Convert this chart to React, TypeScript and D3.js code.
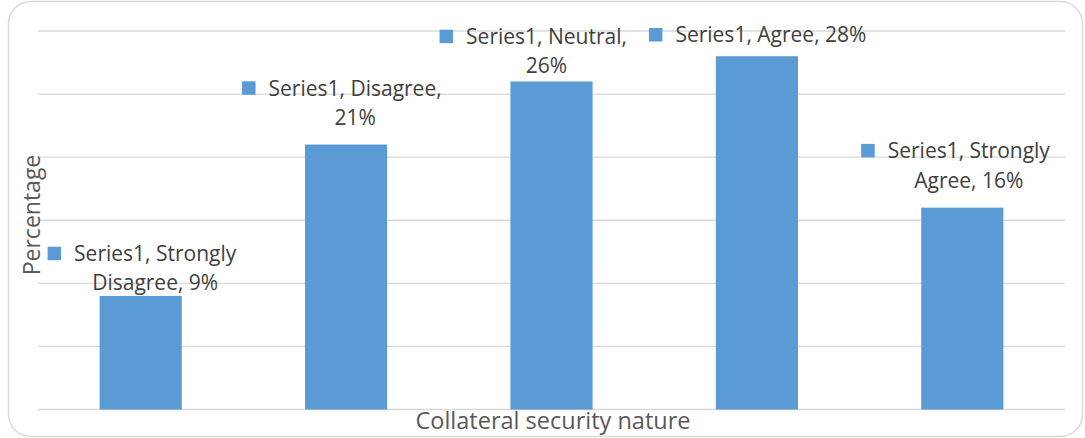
import React, { useEffect, useRef } from "react";
import * as d3 from "d3";

const categories = ["Strongly Disagree", "Disagree", "Neutral", "Agree", "Strongly Agree"];
const values = [9, 21, 26, 28, 16];
const labelLines = [
  ["Series1, Strongly", "Disagree, 9%"],
  ["Series1, Disagree,", "21%"],
  ["Series1, Neutral,", "26%"],
  ["Series1, Agree, 28%"],
  ["Series1, Strongly", "Agree, 16%"],
];
const yTicks = [0, 5, 10, 15, 20, 25, 30];
const xTitle = "Collateral security nature";
const yTitle = "Percentage";

// label layout: text center offset from bar center, last baseline offset from bar top
const labelDx = [14.5, 9, -5, 14, 6.5];
const labelDy = [-5.5, -19.5, -8, -14, -20];

const W = 1085;
const H = 438;
const FONT = "'Open Sans', sans-serif";
const TEXT = "#404040";
const BAR = "#5b9bd5";
const GRID = "#d9d9d9";

export default function App() {
  const ref = useRef<SVGSVGElement | null>(null);

  useEffect(() => {
    const svg = d3.select(ref.current);
    svg.selectAll("*").remove();

    svg
      .append("rect")
      .attr("x", 8.5)
      .attr("y", 1.5)
      .attr("width", 1074)
      .attr("height", 435)
      .attr("rx", 22)
      .attr("fill", "#fff")
      .attr("stroke", GRID)
      .attr("stroke-width", 1.5);

    const x = d3.scaleBand<string>().domain(categories).range([38, 1065]).paddingInner(0.6).paddingOuter(0.3);
    const y = d3.scaleLinear().domain([0, 30]).range([409.5, 31]);

    svg
      .append("g")
      .selectAll("line")
      .data(yTicks)
      .join("line")
      .attr("x1", 38)
      .attr("x2", 1065)
      .attr("y1", (d) => y(d))
      .attr("y2", (d) => y(d))
      .attr("stroke", GRID)
      .attr("stroke-width", 1.3);

    svg
      .append("g")
      .selectAll("rect")
      .data(values)
      .join("rect")
      .attr("x", (_, i) => x(categories[i])!)
      .attr("width", x.bandwidth())
      .attr("y", (d) => y(d))
      .attr("height", (d) => y(0) - y(d))
      .attr("fill", BAR);

    const lh = 29.5;
    const fs = 21;
    values.forEach((v, i) => {
      const lines = labelLines[i];
      const cx = x(categories[i])! + x.bandwidth() / 2 + labelDx[i];
      const lastBase = y(v) + labelDy[i];
      const g = svg.append("g");
      let firstWidth = 0;
      lines.forEach((t, j) => {
        const te = g
          .append("text")
          .attr("x", cx)
          .attr("y", lastBase - (lines.length - 1 - j) * lh)
          .attr("text-anchor", "middle")
          .attr("font-family", FONT)
          .attr("font-size", fs)
          .attr("fill", TEXT)
          .text(t);
        if (j === 0) firstWidth = (te.node() as SVGTextElement).getComputedTextLength();
      });
      const firstBase = lastBase - (lines.length - 1) * lh;
      g.append("rect")
        .attr("x", cx - firstWidth / 2 - 13 - 13.5)
        .attr("y", firstBase - 7.5 - 6.75)
        .attr("width", 13.5)
        .attr("height", 13.5)
        .attr("fill", BAR);
    });

    svg
      .append("text")
      .attr("x", 553)
      .attr("y", 429)
      .attr("text-anchor", "middle")
      .attr("font-family", FONT)
      .attr("font-size", 23.5)
      .attr("fill", "#595959")
      .text(xTitle);

    svg
      .append("text")
      .attr("transform", "translate(40,215) rotate(-90)")
      .attr("text-anchor", "middle")
      .attr("font-family", FONT)
      .attr("font-size", 23)
      .attr("fill", "#595959")
      .text(yTitle);
  }, []);

  return (
    <svg
      ref={ref}
      width={W}
      height={H}
      style={{ position: "absolute", left: 0, top: 0, background: "#fff" }}
    />
  );
}
